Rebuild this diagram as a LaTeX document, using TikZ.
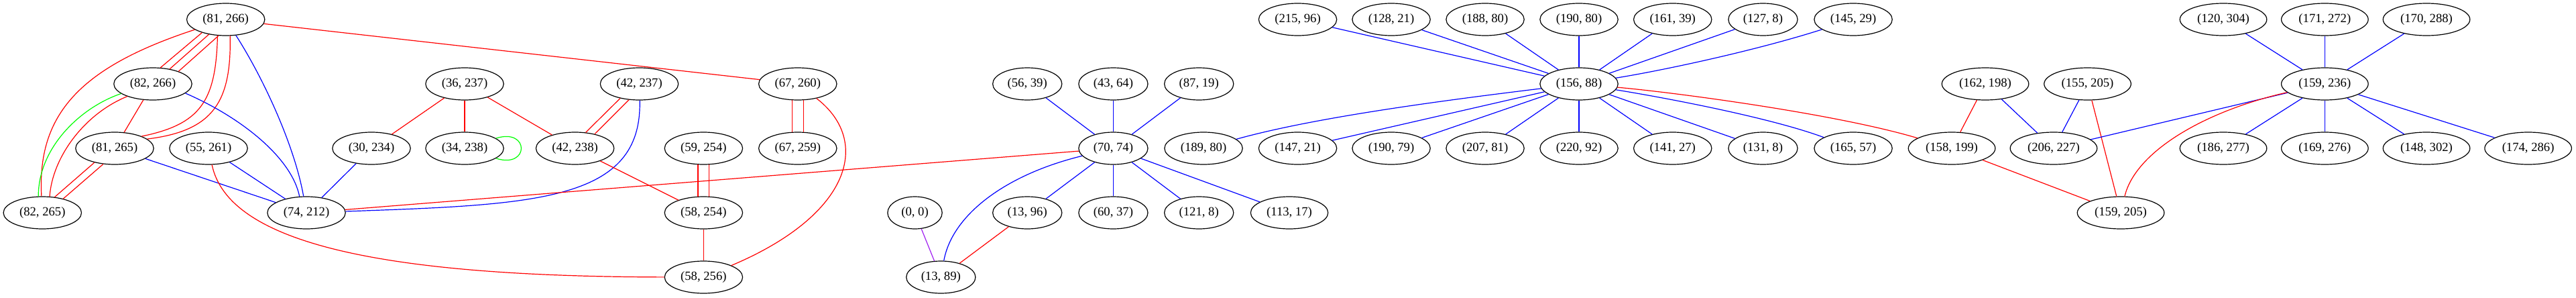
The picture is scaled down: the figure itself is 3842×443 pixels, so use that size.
\documentclass[tikz,border=0pt]{standalone}
\usepackage{fontspec}
\setmainfont{Liberation Serif}
\usepackage{tikz}
\usetikzlibrary{shapes.geometric}

\begin{document}
\begin{tikzpicture}[x=0.75pt,y=0.75pt,yscale=-1,xscale=1,
  vtx/.style={draw, ellipse, line width=0.9pt, inner xsep=5.2pt, minimum height=36pt, font=\fontsize{14}{16}\selectfont},
  redln/.style={color={rgb, 255:red, 255; green, 0; blue, 0 }, line width=0.9pt},
  blueln/.style={color={rgb, 255:red, 0; green, 0; blue, 255 }, line width=0.9pt},
  greenln/.style={color={rgb, 255:red, 0; green, 255; blue, 0 }, line width=0.9pt},
  purpleln/.style={color={rgb, 255:red, 160; green, 32; blue, 240 }, line width=0.9pt}]
%set diagram left start at 0, and has height of 443
\useasboundingbox (0,0) rectangle (3842,443);

% Text Node - first row
\draw (336.7,29) node [vtx] (v81x266) {(81, 266)};
\draw (1935.5,29) node [vtx] (v215x96) {(215, 96)};
\draw (2075,29) node [vtx] (v128x21) {(128, 21)};
\draw (2215,29) node [vtx] (v188x80) {(188, 80)};
\draw (2355,29) node [vtx] (v190x80) {(190, 80)};
\draw (2494.7,29) node [vtx] (v161x39) {(161, 39)};
\draw (2629.4,29) node [vtx] (v127x8) {(127, 8)};
\draw (2764,29) node [vtx] (v145x29) {(145, 29)};
\draw (3316,29) node [vtx] (v120x304) {(120, 304)};
\draw (3467.3,29) node [vtx] (v171x272) {(171, 272)};
\draw (3619,29) node [vtx] (v170x288) {(170, 288)};
% Text Node - second row
\draw (228,125) node [vtx] (v82x266) {(82, 266)};
\draw (693,125) node [vtx] (v36x237) {(36, 237)};
\draw (953.5,125) node [vtx] (v42x237) {(42, 237)};
\draw (1189.8,125) node [vtx] (v67x260) {(67, 260)};
\draw (1532.2,125) node [vtx] (v56x39) {(56, 39)};
\draw (1660.4,125) node [vtx] (v43x64) {(43, 64)};
\draw (1788.2,125) node [vtx] (v87x19) {(87, 19)};
\draw (2355,125) node [vtx] (v156x88) {(156, 88)};
\draw (2961,125) node [vtx] (v162x198) {(162, 198)};
\draw (3113.5,125) node [vtx] (v155x205) {(155, 205)};
\draw (3467.3,125) node [vtx] (v159x236) {(159, 236)};
% Text Node - third row
\draw (171,221) node [vtx] (v81x265) {(81, 265)};
\draw (311,221) node [vtx] (v55x261) {(55, 261)};
\draw (554,221) node [vtx] (v30x234) {(30, 234)};
\draw (693,221) node [vtx] (v34x238) {(34, 238)};
\draw (857.6,221) node [vtx] (v42x238) {(42, 238)};
\draw (1049.4,221) node [vtx] (v59x254) {(59, 254)};
\draw (1189.8,221) node [vtx] (v67x259) {(67, 259)};
\draw (1660.4,221) node [vtx] (v70x74) {(70, 74)};
\draw (1795,221) node [vtx] (v189x80) {(189, 80)};
\draw (1935.5,221) node [vtx] (v147x21) {(147, 21)};
\draw (2075,221) node [vtx] (v190x79) {(190, 79)};
\draw (2215,221) node [vtx] (v207x81) {(207, 81)};
\draw (2355,221) node [vtx] (v220x92) {(220, 92)};
\draw (2494.7,221) node [vtx] (v141x27) {(141, 27)};
\draw (2629.4,221) node [vtx] (v131x8) {(131, 8)};
\draw (2764,221) node [vtx] (v165x57) {(165, 57)};
\draw (2911,221) node [vtx] (v158x199) {(158, 199)};
\draw (3062.9,221) node [vtx] (v206x227) {(206, 227)};
\draw (3316,221) node [vtx] (v186x277) {(186, 277)};
\draw (3467.3,221) node [vtx] (v169x276) {(169, 276)};
\draw (3619,221) node [vtx] (v148x302) {(148, 302)};
\draw (3770.6,221) node [vtx] (v174x286) {(174, 286)};
% Text Node - fourth row
\draw (63.3,317) node [vtx] (v82x265) {(82, 265)};
\draw (457,317) node [vtx] (v74x212) {(74, 212)};
\draw (1049.4,317) node [vtx] (v58x254) {(58, 254)};
\draw (1364.5,317) node [vtx, minimum width=61pt] (v0x0) {(0, 0)};
\draw (1532.2,317) node [vtx] (v13x96) {(13, 96)};
\draw (1660.4,317) node [vtx] (v60x37) {(60, 37)};
\draw (1788.2,317) node [vtx] (v121x8) {(121, 8)};
\draw (1923,317) node [vtx] (v113x17) {(113, 17)};
\draw (3163,317) node [vtx] (v159x205) {(159, 205)};
% Text Node - fifth row
\draw (1049.4,413) node [vtx] (v58x256) {(58, 256)};
\draw (1403.3,413) node [vtx] (v13x89) {(13, 89)};

%Straight Lines - (81, 266) to (82, 266), three times
\draw [redln] (v81x266.209) -- (v82x266.65) ;
\draw [redln] (v81x266) -- (v82x266) ;
\draw [redln] (v81x266.246) -- (v82x266.26) ;
%Curve Lines - (81, 266) to (81, 265), twice
\draw [redln] (v81x266.243) .. controls (322,150) and (300,185) .. (v81x265.24) ;
\draw [redln] (v81x266.285) .. controls (345,150) and (320,195) .. (v81x265.16) ;
%Curve Lines
\draw [redln] (v81x266) .. controls (120,100) and (55,170) .. (v82x265) ;
%Curve Lines
\draw [blueln] (v81x266) .. controls (395,120) and (440,220) .. (v74x212) ;
%Straight Lines
\draw [redln] (v81x266) -- (v67x260) ;
%Curve Lines
\draw [greenln] (v82x266.197) .. controls (120,160) and (57,220) .. (v82x265.104) ;
\draw [redln] (v82x266.206) .. controls (125,170) and (78,235) .. (v82x265.66) ;
%Straight Lines
\draw [redln] (v82x266) -- (v81x265) ;
%Curve Lines
\draw [blueln] (v82x266.344) .. controls (360,175) and (435,235) .. (v74x212.113) ;
%Straight Lines - (81, 265) to (82, 265), twice
\draw [redln] (v81x265.215) -- (v82x265.52) ;
\draw [redln] (v81x265.234) -- (v82x265.34) ;
%Straight Lines
\draw [blueln] (v81x265) -- (v74x212) ;
\draw [blueln] (v55x261) -- (v74x212) ;
\draw [blueln] (v30x234) -- (v74x212) ;
%Curve Lines
\draw [redln] (v55x261) .. controls (340,360) and (560,412) .. (v58x256) ;
%Straight Lines
\draw [redln] (v36x237) -- (v30x234) ;
\draw [redln] (v36x237) -- (v34x238) ;
\draw [redln] (v36x237) -- (v42x238) ;
%Curve Lines - loop
\draw [greenln] (v34x238) .. controls (790,190) and (790,252) .. (v34x238) ;
%Straight Lines - (42, 237) to (42, 238), twice
\draw [redln] (v42x237.217) -- (v42x238.56) ;
\draw [redln] (v42x237.237) -- (v42x238.36) ;
%Curve Lines
\draw [blueln] (v42x237) .. controls (958,300) and (800,305) .. (v74x212) ;
%Straight Lines
\draw [redln] (v42x238) -- (v58x254) ;
\draw [redln] (v59x254.251) -- (v58x254.109) ;
\draw [redln] (v59x254.289) -- (v58x254.71) ;
\draw [redln] (v58x254) -- (v58x256) ;
\draw [redln] (v67x260.251) -- (v67x259.109) ;
\draw [redln] (v67x260.289) -- (v67x259.71) ;
%Curve Lines
\draw [redln] (v67x260) .. controls (1300,210) and (1270,320) .. (v58x256) ;
%Straight Lines
\draw [redln] (v74x212) -- (v70x74) ;

%Straight Lines - round (70, 74)
\draw [blueln] (v56x39) -- (v70x74) ;
\draw [blueln] (v43x64) -- (v70x74) ;
\draw [blueln] (v87x19) -- (v70x74) ;
\draw [blueln] (v70x74) -- (v13x96) ;
\draw [blueln] (v70x74) -- (v60x37) ;
\draw [blueln] (v70x74) -- (v121x8) ;
\draw [blueln] (v70x74) -- (v113x17) ;
%Curve Lines
\draw [blueln] (v70x74) .. controls (1500,260) and (1420,320) .. (v13x89) ;
%Straight Lines
\draw [purpleln] (v0x0) -- (v13x89) ;
\draw [redln] (v13x96) -- (v13x89) ;

%Straight Lines - round (156, 88)
\draw [blueln] (v215x96) -- (v156x88) ;
\draw [blueln] (v128x21) -- (v156x88) ;
\draw [blueln] (v188x80) -- (v156x88) ;
\draw [blueln] (v190x80) -- (v156x88) ;
\draw [blueln] (v161x39) -- (v156x88) ;
\draw [blueln] (v127x8) -- (v156x88) ;
\draw [blueln] (v147x21) -- (v156x88) ;
\draw [blueln] (v190x79) -- (v156x88) ;
\draw [blueln] (v207x81) -- (v156x88) ;
\draw [blueln] (v220x92) -- (v156x88) ;
\draw [blueln] (v141x27) -- (v156x88) ;
\draw [blueln] (v131x8) -- (v156x88) ;
%Curve Lines
\draw [blueln] (v189x80) .. controls (1960,175) and (2150,150) .. (v156x88) ;
\draw [blueln] (v156x88) .. controls (2480,105) and (2620,75) .. (v145x29) ;
\draw [blueln] (v156x88) .. controls (2480,145) and (2640,175) .. (v165x57) ;
\draw [redln] (v156x88) .. controls (2500,138) and (2740,170) .. (v158x199) ;

%Straight Lines - right part
\draw [redln] (v162x198) -- (v158x199) ;
\draw [blueln] (v162x198) -- (v206x227) ;
\draw [blueln] (v155x205) -- (v206x227) ;
\draw [redln] (v155x205) -- (v159x205) ;
\draw [redln] (v158x199) -- (v159x205) ;
\draw [blueln] (v206x227) -- (v159x236) ;
%Curve Lines
\draw [redln] (v159x236) .. controls (3290,165) and (3185,225) .. (v159x205) ;
%Straight Lines - round (159, 236)
\draw [blueln] (v120x304) -- (v159x236) ;
\draw [blueln] (v171x272) -- (v159x236) ;
\draw [blueln] (v170x288) -- (v159x236) ;
\draw [blueln] (v159x236) -- (v186x277) ;
\draw [blueln] (v159x236) -- (v169x276) ;
\draw [blueln] (v159x236) -- (v148x302) ;
\draw [blueln] (v159x236) -- (v174x286) ;

\end{tikzpicture}
\end{document}
